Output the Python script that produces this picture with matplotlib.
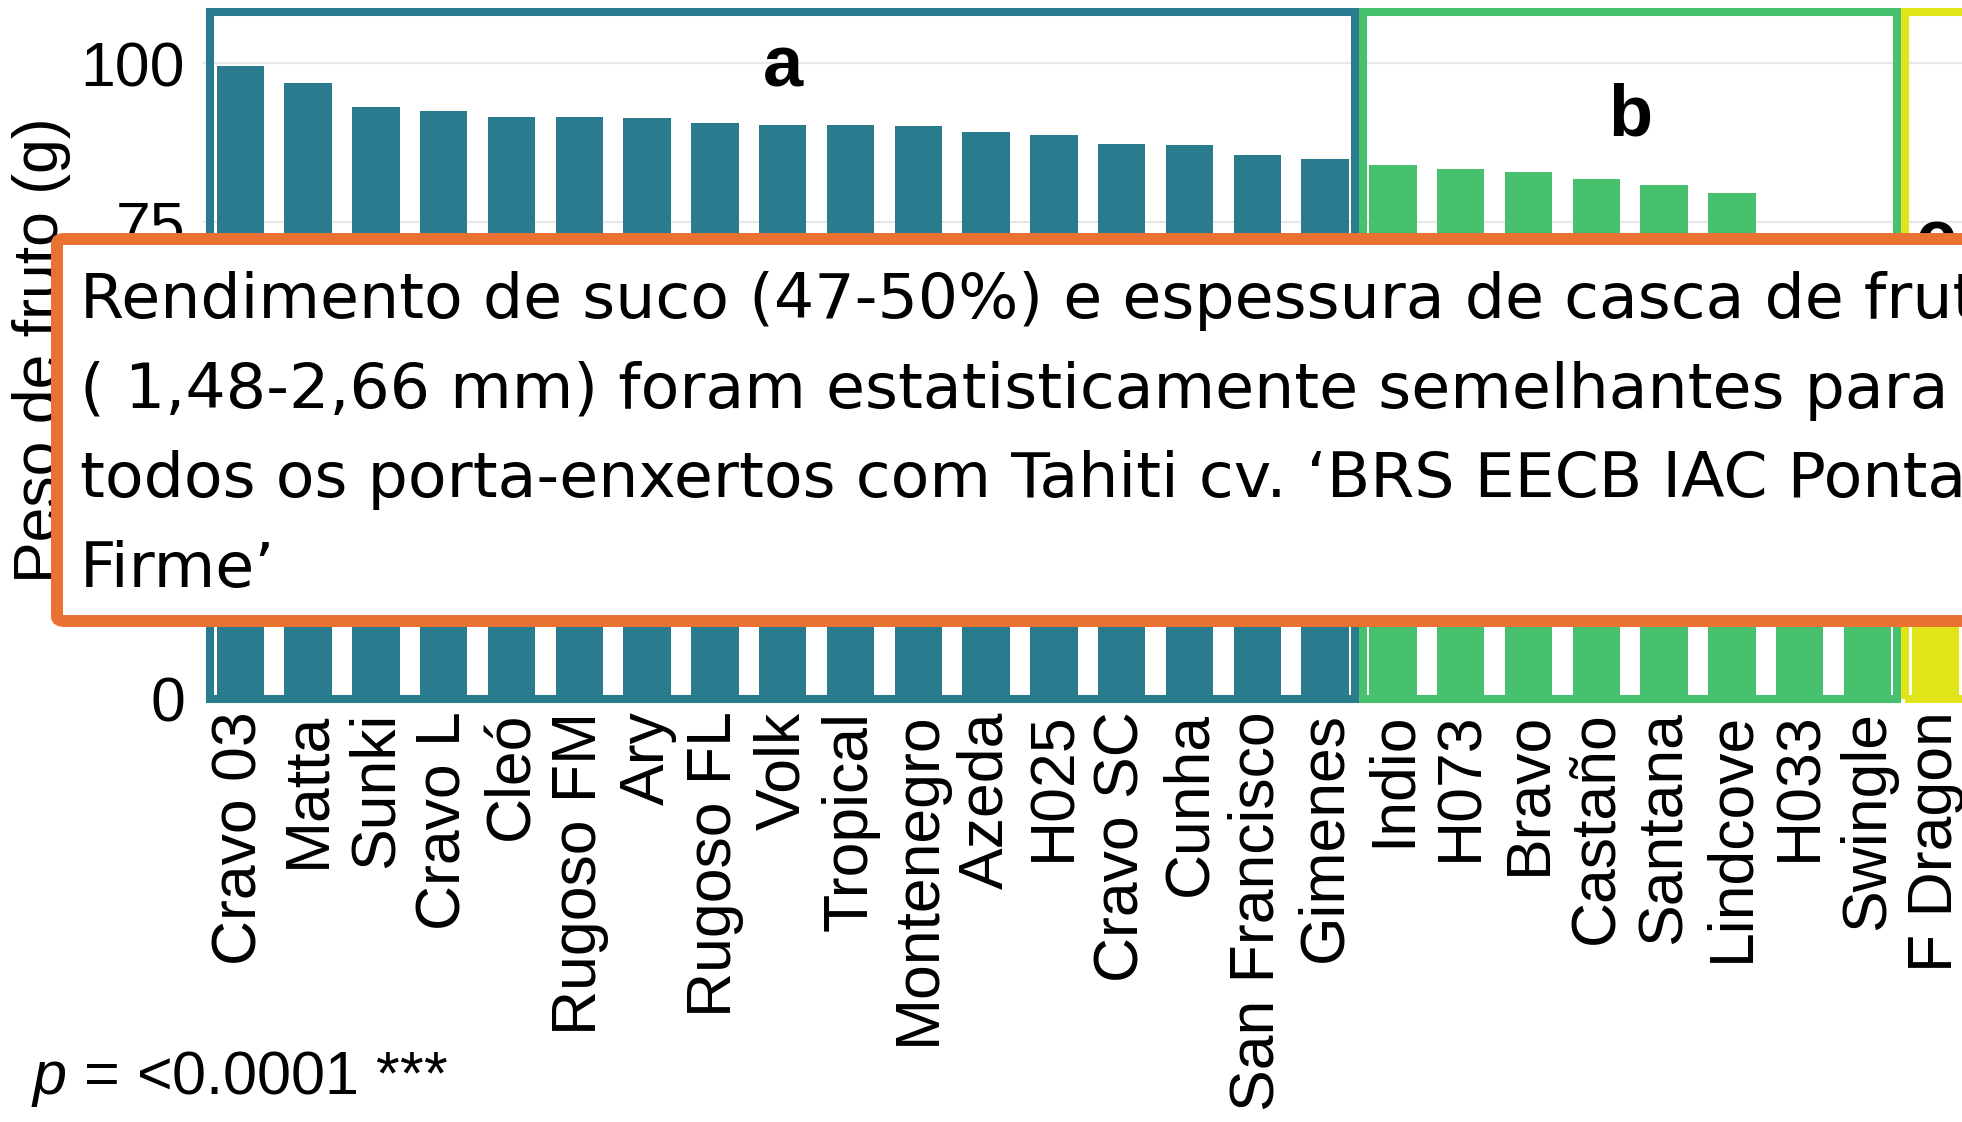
import matplotlib
matplotlib.use("Agg")
import matplotlib.pyplot as plt
from matplotlib.patches import Rectangle, FancyBboxPatch

# data
rootstocks = ["Cravo 03", "Matta", "Sunki", "Cravo L", "Cleó", "Rugoso FM", "Ary",
              "Rugoso FL", "Volk", "Tropical", "Montenegro", "Azeda", "H025",
              "Cravo SC", "Cunha", "San Francisco", "Gimenes", "Indio", "H073",
              "Bravo", "Castaño", "Santana", "Lindcove", "H033", "Swingle", "F Dragon"]
fruit_weight = [99.6, 96.9, 93.1, 92.5, 91.6, 91.6, 91.4, 90.6, 90.3, 90.3, 90.1,
                89.2, 88.7, 87.3, 87.1, 85.6, 84.9, 84.0, 83.4, 82.9, 81.8, 80.9,
                79.6, 72.5, 71.0, 64.0]
groups = ["a"] * 17 + ["b"] * 8 + ["c"]
group_names = ["a", "b", "c"]
group_label_y = [99.4, 91.6, 72.0]
group_colors = {"a": "#2a7b8e", "b": "#48c16e", "c": "#e1e419"}
yticks = [0, 25, 50, 75, 100]

note_lines = ["Rendimento de suco (47-50%) e espessura de casca de fruto",
              "( 1,48-2,66 mm) foram estatisticamente semelhantes para",
              "todos os porta-enxertos com Tahiti cv. \u2018BRS EECB IAC Ponta Grossa",
              "Firme\u2019"]
p_label = r"$p$ = <0.0001 ***"

plt.rcParams["font.family"] = ["Liberation Sans", "DejaVu Sans"]
plt.rcParams["mathtext.fontset"] = "custom"
plt.rcParams["mathtext.it"] = "Liberation Sans:italic"
plt.rcParams["mathtext.rm"] = "Liberation Sans"

W, H = 1962, 1122
fig = plt.figure(figsize=(W / 100, H / 100), dpi=100)
ax = fig.add_axes([203 / W, 1 - 699 / H, 1834 / W, 687 / H])

xs = list(range(len(rootstocks)))
ax.bar(xs, fruit_weight, width=0.7, color=[group_colors[g] for g in groups], zorder=2)
ax.set_xlim(-0.55, 26.5)
ax.set_ylim(0, 108.1)
ax.set_yticks(yticks)
ax.set_xticks(xs)
ax.set_xticklabels(rootstocks, rotation=90, va="top", ha="center")
ax.yaxis.grid(True, color="#e8e8e8", lw=1.6)
ax.set_axisbelow(True)
for s in ax.spines.values():
    s.set_visible(False)
ax.tick_params(axis="both", length=0, labelsize=45)
ax.tick_params(axis="y", pad=13)
ax.tick_params(axis="x", pad=9)

# boxes around the groups with their letters
gap = 0.06
for name, ly in zip(group_names, group_label_y):
    idx = [i for i, g in enumerate(groups) if g == name]
    lo, hi = idx[0] - 0.5 + gap, idx[-1] + 0.5 - gap
    ax.add_patch(Rectangle((lo, 0), hi - lo, 108.1, fill=False,
                           ec=group_colors[name], lw=5.8, clip_on=False, zorder=3))
    ax.text((idx[0] + idx[-1]) / 2, ly, name, ha="center", va="center",
            fontsize=52, fontweight="bold", zorder=4)

fig.text(12 / W, 1 - 350 / H, "Peso de fruto (g)", rotation=90, fontsize=45,
         ha="left", va="center")
fig.text(31 / W, 1 - 1079 / H, p_label, fontsize=44, ha="left", va="center")

# overlay note box
box = FancyBboxPatch((57 / W, 1 - 621 / H), 1.2, 382 / H,
                     boxstyle="round,pad=0,rounding_size=0.004",
                     transform=fig.transFigure, fc="white", ec="#e97132",
                     lw=8.6, zorder=10)
fig.add_artist(box)
for i, line in enumerate(note_lines):
    fig.text(80 / W, 1 - (318 + i * 89.7) / H, line, fontsize=45.6,
             family=["DejaVu Sans"], va="baseline", ha="left", zorder=11)

fig.savefig("out.png", dpi=100)
